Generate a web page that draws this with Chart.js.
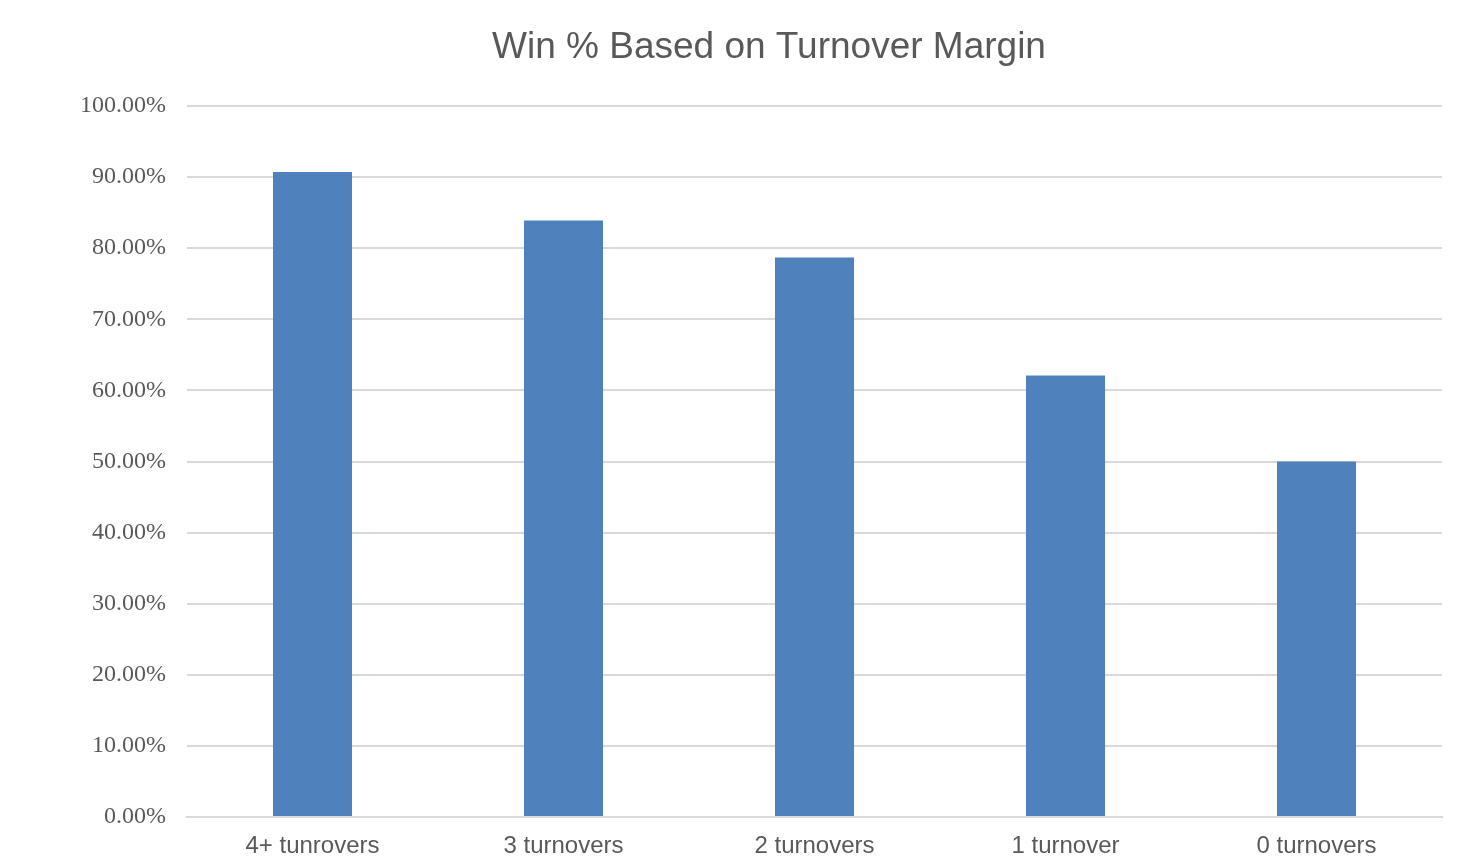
<!DOCTYPE html>
<html>
<head>
<meta charset="utf-8">
<script src="https://cdn.jsdelivr.net/npm/chart.js@4"></script>
<style>
  html, body { margin: 0; padding: 0; background: #fff; }
  #wrap { width: 1468px; height: 859px; }
</style>
</head>
<body>
<div id="wrap"><canvas id="chart" width="1468" height="859"></canvas></div>
<script>
// --- Data ---
const categories = ['4+ tunrovers', '3 turnovers', '2 turnovers', '1 turnover', '0 turnovers'];
const winPct = [90.7, 83.9, 78.7, 62.1, 50.0];
const yTicks = [0, 10, 20, 30, 40, 50, 60, 70, 80, 90, 100];
const chartTitle = 'Win % Based on Turnover Margin';

const textGrey = '#595959';
const gridGrey = '#d9d9d9';

// title is drawn by hand so it can sit off-centre like the original
const titlePlugin = {
    id: 'offsetTitle',
    afterDraw(chart) {
        const c = chart.ctx;
        c.save();
        c.fillStyle = textGrey;
        c.font = '37px "Liberation Sans", Arial, sans-serif';
        c.textAlign = 'center';
        c.textBaseline = 'middle';
        c.fillText(chartTitle, 769, 48);
        c.restore();
    }
};

const ctx = document.getElementById('chart').getContext('2d');
new Chart(ctx, {
    type: 'bar',
    data: {
        labels: categories,
        datasets: [{
            label: 'Win %',
            data: winPct,
            backgroundColor: '#4f81bd',
            borderWidth: 0,
            categoryPercentage: 1,
            barPercentage: 0.315
        }]
    },
    options: {
        responsive: false,
        animation: false,
        layout: { padding: { left: 20, right: 26, top: 106, bottom: 0 } },
        plugins: {
            legend: { display: false },
            tooltip: { enabled: false },
            title: { display: false }
        },
        scales: {
            x: {
                grid: { display: false, drawTicks: false },
                border: { display: true, color: gridGrey, width: 2 },
                ticks: {
                    color: textGrey,
                    font: { family: 'Liberation Sans, Arial, sans-serif', size: 24 },
                    padding: 15
                },
                afterFit: (scale) => { scale.height = 42; }
            },
            y: {
                min: 0,
                max: 100,
                afterBuildTicks: (scale) => { scale.ticks = yTicks.map(v => ({ value: v })); },
                grid: { color: gridGrey, lineWidth: 2, drawTicks: false },
                border: { display: false },
                ticks: {
                    color: textGrey,
                    font: { family: 'Liberation Serif, Times New Roman, serif', size: 24 },
                    padding: 21,
                    callback: (v) => v.toFixed(2) + '%'
                },
                afterFit: (scale) => { scale.width = 167; }
            }
        }
    },
    plugins: [titlePlugin]
});
</script>
</body>
</html>
